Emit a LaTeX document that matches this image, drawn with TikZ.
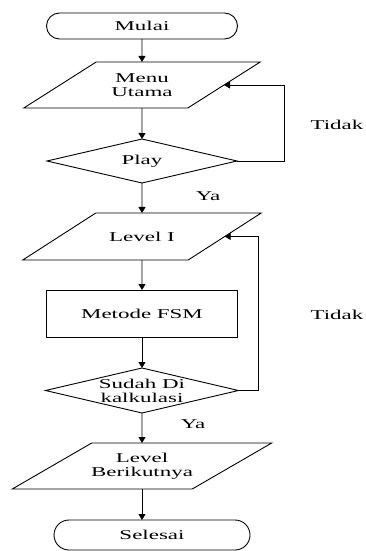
\documentclass[tikz,border=0pt]{standalone}
\usepackage{fontspec}
\usetikzlibrary{shapes.geometric,shapes.misc,arrows.meta}
\newfontfamily\lblfont[FakeStretch=1.7]{Liberation Serif}
\begin{document}
\begin{tikzpicture}[x=1pt,y=-1pt,
  base/.style={draw, line width=0.9pt, inner sep=1pt, outer sep=0pt},
  lbl/.style={font=\lblfont\fontsize{13.5}{14}\selectfont, align=center, inner sep=0pt},
  term/.style={base, rounded rectangle},
  io/.style={base, trapezium, trapezium left angle=45, trapezium right angle=135, trapezium stretches=true},
  proc/.style={base, rectangle},
  dec/.style={base, diamond},
  arr/.style={line width=0.9pt, -{Triangle[length=6pt,width=7pt]}}
]
\useasboundingbox (0,0) rectangle (366,551);
% shapes
\node[term, minimum width=193pt, minimum height=26pt] (mulai) at (142,26) {\phantom{M}};
\node[io, minimum width=237pt, minimum height=46pt] (menu) at (142,85) {\phantom{M}};
\node[dec, minimum width=190pt, minimum height=44pt] (play) at (142,161) {\phantom{M}};
\node[io, minimum width=239pt, minimum height=47pt] (lvl) at (142,236.5) {\phantom{M}};
\node[proc, minimum width=191pt, minimum height=47pt] (fsm) at (142,313.5) {\phantom{M}};
\node[dec, minimum width=193pt, minimum height=45pt] (kalk) at (142,390.5) {\phantom{M}};
\node[io, minimum width=260pt, minimum height=46pt] (next) at (142,466) {\phantom{M}};
\node[term, minimum width=198pt, minimum height=30pt] (selesai) at (152,535) {\phantom{M}};
% texts
\node[lbl] (tmulai) at (mulai) {Mulai};
\node[lbl] (tmenu) at (menu) {Menu\\Utama};
\node[lbl] (tplay) at (play) {Play};
\node[lbl] (tlvl) at (lvl) {Level I};
\node[lbl] (tfsm) at (fsm) {Metode FSM};
\node[lbl] (tkalk) at (kalk) {Sudah Di\\kalkulasi};
\node[lbl] (tnext) at (next) {Level\\Berikutnya};
\node[lbl] (tsel) at (selesai) {Selesai};
\node[lbl] (tidak1) at (337,125) {Tidak};
\node[lbl] (tidak2) at (337,315) {Tidak};
\node[lbl] (ya1) at (208,196) {Ya};
\node[lbl] (ya2) at (193,424) {Ya};
% connectors
\draw[arr] (mulai) -- (menu);
\draw[arr] (menu) -- (play);
\draw[arr] (play) -- (lvl);
\draw[arr] (lvl) -- (fsm);
\draw[arr] (fsm) -- (kalk);
\draw[arr] (kalk) -- (next);
\draw[arr] (next) -- (next |- selesai.north);
\draw[arr] (play.east) -- ++(47,0) |- (menu.east);
\draw[arr] (kalk.east) -- ++(20,0) |- (lvl.east);
\end{tikzpicture}
\end{document}
